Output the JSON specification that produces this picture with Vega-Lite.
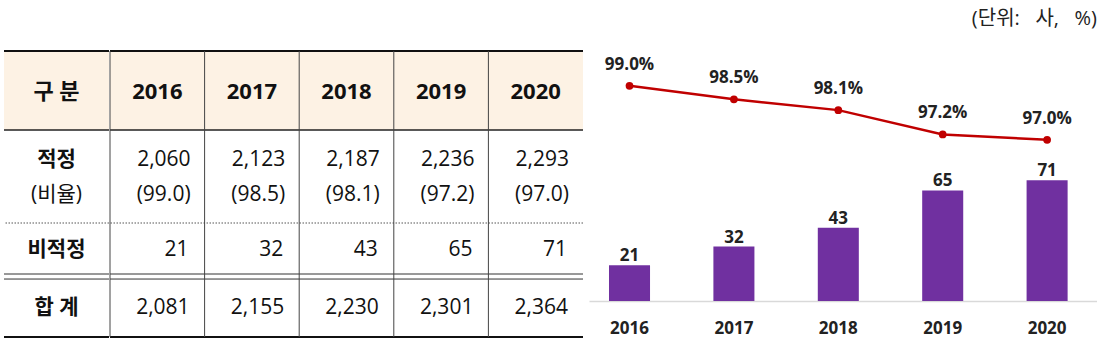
{
  "$schema": "https://vega.github.io/schema/vega-lite/v6.json",
  "padding": {"left": 3, "top": 9, "right": 0, "bottom": 0},
  "background": "white",
  "config": {
    "view": {"stroke": null},
    "font": "Open Sans, Noto Sans CJK KR",
    "concat": {"spacing": 0}
  },
  "datasets": {
    "years": [
      {"year": "2016", "ok": 2060, "rate": 99.0, "rateText": "(99.0)", "rateLabel": "99.0%", "non": 21, "total": 2081},
      {"year": "2017", "ok": 2123, "rate": 98.5, "rateText": "(98.5)", "rateLabel": "98.5%", "non": 32, "total": 2155},
      {"year": "2018", "ok": 2187, "rate": 98.1, "rateText": "(98.1)", "rateLabel": "98.1%", "non": 43, "total": 2230},
      {"year": "2019", "ok": 2236, "rate": 97.2, "rateText": "(97.2)", "rateLabel": "97.2%", "non": 65, "total": 2301},
      {"year": "2020", "ok": 2293, "rate": 97.0, "rateText": "(97.0)", "rateLabel": "97.0%", "non": 71, "total": 2364}
    ]
  },
  "title": {
    "text": "(단위:\u00a0\u00a0 사,\u00a0\u00a0 %)",
    "anchor": "end",
    "fontSize": 20,
    "fontWeight": "normal",
    "color": "#222222",
    "offset": 21
  },
  "spacing": 5,
  "hconcat": [
    {
      "spacing": -2,
      "hconcat": [
        {
          "spacing": 0,
          "bounds": "flush",
          "vconcat": [
            {
              "width": 105, "height": 79,
              "view": {"fill": "#FDF2E4", "stroke": null},
              "data": {"values": [{"label": "구 분"}]},
              "layer": [
                {"mark": {"type": "rule", "color": "#111111", "strokeWidth": 2}, "encoding": {"y": {"datum": 1, "type": "quantitative", "scale": {"domain": [0, 1], "nice": false}, "axis": null}}},
                {"mark": {"type": "rule", "color": "#222222", "strokeWidth": 1.5}, "encoding": {"y": {"datum": 0, "type": "quantitative", "scale": {"domain": [0, 1], "nice": false}, "axis": null}}},
                {"mark": {"type": "text", "fontSize": 22, "fontWeight": "bold", "dy": 1, "color": "#111111"}, "encoding": {"text": {"field": "label"}}}
              ]
            },
            {
              "width": 105, "height": 93,
              "data": {"values": [{"label": "적정", "sub": "(비율)"}]},
              "layer": [
                {"mark": {"type": "rule", "color": "#555555", "strokeWidth": 1, "strokeDash": [1.5, 1.5]}, "encoding": {"y": {"datum": 0, "type": "quantitative", "scale": {"domain": [0, 1], "nice": false}, "axis": null}}},
                {"mark": {"type": "text", "fontSize": 21, "fontWeight": "bold", "dy": -17, "color": "#111111"}, "encoding": {"text": {"field": "label"}}},
                {"mark": {"type": "text", "fontSize": 21, "dy": 18, "color": "#111111"}, "encoding": {"text": {"field": "sub"}}}
              ]
            },
            {
              "width": 105, "height": 51,
              "data": {"values": [{"label": "비적정"}]},
              "layer": [
                {"mark": {"type": "rule", "color": "#333333", "strokeWidth": 1}, "encoding": {"y": {"datum": 0, "type": "quantitative", "scale": {"domain": [0, 1], "nice": false}, "axis": null}}},
                {"mark": {"type": "text", "fontSize": 21, "fontWeight": "bold", "dy": 1, "color": "#111111"}, "encoding": {"text": {"field": "label"}}}
              ]
            },
            {
              "width": 105, "height": 63,
              "data": {"values": [{"label": "합 계"}]},
              "layer": [
                {"mark": {"type": "rule", "color": "#333333", "strokeWidth": 1}, "encoding": {"y": {"datum": 0.92, "type": "quantitative", "scale": {"domain": [0, 1], "nice": false}, "axis": null}}},
                {"mark": {"type": "rule", "color": "#111111", "strokeWidth": 2}, "encoding": {"y": {"datum": 0, "type": "quantitative", "scale": {"domain": [0, 1], "nice": false}, "axis": null}}},
                {"mark": {"type": "text", "fontSize": 21, "fontWeight": "bold", "dy": 2, "color": "#111111"}, "encoding": {"text": {"field": "label"}}}
              ]
            }
          ]
        },
        {
          "spacing": 0,
          "bounds": "flush",
          "vconcat": [
            {
              "width": 473, "height": 79,
              "view": {"fill": "#FDF2E4", "stroke": null},
              "data": {"name": "years"},
              "layer": [
                {"data": {"values": [{"k": 1}]}, "mark": {"type": "rule", "color": "#111111", "strokeWidth": 2}, "encoding": {"y": {"datum": 1, "type": "quantitative", "scale": {"domain": [0, 1], "nice": false}, "axis": null}}},
                {"data": {"values": [{"k": 1}]}, "mark": {"type": "rule", "color": "#222222", "strokeWidth": 1.5}, "encoding": {"y": {"datum": 0, "type": "quantitative", "scale": {"domain": [0, 1], "nice": false}, "axis": null}}},
                {"mark": {"type": "rule", "color": "#444444", "strokeWidth": 1}, "encoding": {"x": {"field": "year", "type": "nominal", "bandPosition": 0, "scale": {"type": "band", "paddingInner": 0, "paddingOuter": 0}, "axis": null}}},
                {"mark": {"type": "text", "fontSize": 22, "fontWeight": "bold", "dy": 1, "color": "#111111"}, "encoding": {"x": {"field": "year", "type": "nominal", "scale": {"type": "band", "paddingInner": 0, "paddingOuter": 0}, "axis": null}, "text": {"field": "year"}}}
              ]
            },
            {
              "width": 473, "height": 93,
              "data": {"name": "years"},
              "layer": [
                {"data": {"values": [{"k": 1}]}, "mark": {"type": "rule", "color": "#555555", "strokeWidth": 1, "strokeDash": [1.5, 1.5]}, "encoding": {"y": {"datum": 0, "type": "quantitative", "scale": {"domain": [0, 1], "nice": false}, "axis": null}}},
                {"mark": {"type": "rule", "color": "#444444", "strokeWidth": 1}, "encoding": {"x": {"field": "year", "type": "nominal", "bandPosition": 0, "scale": {"type": "band", "paddingInner": 0, "paddingOuter": 0}, "axis": null}}},
                {"mark": {"type": "text", "fontSize": 21, "align": "right", "dx": -14, "dy": -17, "color": "#111111"}, "encoding": {"x": {"field": "year", "type": "nominal", "bandPosition": 1, "scale": {"type": "band", "paddingInner": 0, "paddingOuter": 0}, "axis": null}, "text": {"field": "ok", "type": "quantitative", "format": ","}}},
                {"mark": {"type": "text", "fontSize": 21, "align": "right", "dx": -14, "dy": 18, "color": "#111111"}, "encoding": {"x": {"field": "year", "type": "nominal", "bandPosition": 1, "scale": {"type": "band", "paddingInner": 0, "paddingOuter": 0}, "axis": null}, "text": {"field": "rateText"}}}
              ]
            },
            {
              "width": 473, "height": 51,
              "data": {"name": "years"},
              "layer": [
                {"data": {"values": [{"k": 1}]}, "mark": {"type": "rule", "color": "#333333", "strokeWidth": 1}, "encoding": {"y": {"datum": 0, "type": "quantitative", "scale": {"domain": [0, 1], "nice": false}, "axis": null}}},
                {"mark": {"type": "rule", "color": "#444444", "strokeWidth": 1}, "encoding": {"x": {"field": "year", "type": "nominal", "bandPosition": 0, "scale": {"type": "band", "paddingInner": 0, "paddingOuter": 0}, "axis": null}}},
                {"mark": {"type": "text", "fontSize": 21, "align": "right", "dx": -16, "dy": 1, "color": "#111111"}, "encoding": {"x": {"field": "year", "type": "nominal", "bandPosition": 1, "scale": {"type": "band", "paddingInner": 0, "paddingOuter": 0}, "axis": null}, "text": {"field": "non", "type": "quantitative"}}}
              ]
            },
            {
              "width": 473, "height": 63,
              "data": {"name": "years"},
              "layer": [
                {"data": {"values": [{"k": 1}]}, "mark": {"type": "rule", "color": "#333333", "strokeWidth": 1}, "encoding": {"y": {"datum": 0.92, "type": "quantitative", "scale": {"domain": [0, 1], "nice": false}, "axis": null}}},
                {"data": {"values": [{"k": 1}]}, "mark": {"type": "rule", "color": "#111111", "strokeWidth": 2}, "encoding": {"y": {"datum": 0, "type": "quantitative", "scale": {"domain": [0, 1], "nice": false}, "axis": null}}},
                {"mark": {"type": "rule", "color": "#444444", "strokeWidth": 1}, "encoding": {"x": {"field": "year", "type": "nominal", "bandPosition": 0, "scale": {"type": "band", "paddingInner": 0, "paddingOuter": 0}, "axis": null}}},
                {"mark": {"type": "text", "fontSize": 21, "align": "right", "dx": -15, "dy": 2, "color": "#111111"}, "encoding": {"x": {"field": "year", "type": "nominal", "bandPosition": 1, "scale": {"type": "band", "paddingInner": 0, "paddingOuter": 0}, "axis": null}, "text": {"field": "total", "type": "quantitative", "format": ","}}}
              ]
            }
          ]
        }
      ]
    },
    {
      "width": 508,
      "height": 250,
      "data": {"name": "years"},
      "encoding": {
        "x": {
          "field": "year",
          "type": "nominal",
          "scale": {"type": "band", "paddingInner": 0.607, "paddingOuter": 0.2365, "align": 0.405},
          "axis": {
            "title": null,
            "labelAngle": 0,
            "ticks": false,
            "domainColor": "#D9D9D9",
            "domainWidth": 1.5,
            "labelFontSize": 17,
            "labelFontWeight": "bold",
            "labelColor": "#222222",
            "labelPadding": 19
          }
        }
      },
      "layer": [
        {
          "mark": {"type": "bar", "color": "#7030A0"},
          "encoding": {"y": {"field": "non", "type": "quantitative", "scale": {"domain": [0, 147], "nice": false}, "axis": null}}
        },
        {
          "mark": {"type": "text", "fontSize": 17, "fontWeight": "bold", "baseline": "alphabetic", "dy": -4, "color": "#222222"},
          "encoding": {
            "y": {"field": "non", "type": "quantitative", "scale": {"domain": [0, 147], "nice": false}, "axis": null},
            "text": {"field": "non", "type": "quantitative"}
          }
        },
        {
          "mark": {"type": "line", "color": "#C00000", "strokeWidth": 2.5},
          "encoding": {"y": {"field": "rate", "type": "quantitative", "scale": {"domain": [91.03, 100.29], "nice": false, "zero": false}, "axis": null}}
        },
        {
          "mark": {"type": "point", "filled": true, "color": "#C00000", "size": 60, "opacity": 1},
          "encoding": {"y": {"field": "rate", "type": "quantitative", "scale": {"domain": [91.03, 100.29], "nice": false, "zero": false}, "axis": null}}
        },
        {
          "mark": {"type": "text", "fontSize": 17, "fontWeight": "bold", "dy": -21, "color": "#222222"},
          "encoding": {
            "y": {"field": "rate", "type": "quantitative", "scale": {"domain": [91.03, 100.29], "nice": false, "zero": false}, "axis": null},
            "text": {"field": "rateLabel"}
          }
        }
      ],
      "resolve": {"scale": {"y": "independent"}}
    }
  ]
}
